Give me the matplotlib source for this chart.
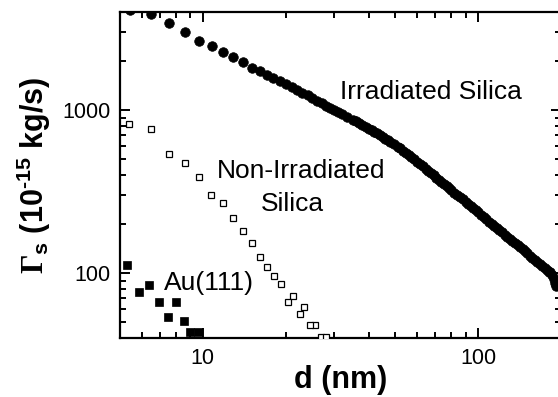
import matplotlib
matplotlib.use('Agg')
import matplotlib.pyplot as plt
from matplotlib.ticker import FixedLocator, FixedFormatter, NullFormatter

# ---------------- data ----------------
irr_d = [5.42, 6.48, 7.55, 8.6, 9.69, 10.75, 11.84, 12.9, 14.0, 15.05, 16.1, 17.1,
         18, 19, 20, 21, 22, 23, 24, 25, 26, 27, 28, 29, 30, 31, 32, 33.5, 35, 36,
         37, 38, 39, 40, 41, 42, 43, 44, 45, 46, 47, 48, 49.5, 51, 52, 53.5, 54.5,
         56, 57, 58.5, 60, 61.5, 63, 64.5, 66, 67.5, 69, 70.5, 72, 73.5, 75, 77,
         78.5, 80, 82, 84, 86, 88, 90, 92, 94, 96, 98, 100, 102.5, 105, 107, 109.5,
         112, 114.5, 117, 119.5, 122, 125, 127.5, 130, 133, 136, 139, 142, 145,
         148, 151, 154, 157.5, 161, 164, 167.5, 171, 174.5, 178, 181, 183, 186,
         188, 190, 192]
irr_g = [4100, 3880, 3440, 3020, 2660, 2470, 2280, 2105, 1960, 1820, 1735, 1640,
         1570, 1500, 1437, 1378, 1326, 1276, 1230, 1182, 1138, 1105, 1065, 1026,
         1000, 975, 945, 910, 875, 855, 830, 812, 790, 770, 753, 735, 719, 700,
         684, 668, 652, 640, 616, 598, 583, 565, 549, 532, 517, 500, 483, 467,
         452, 437, 424, 411, 398, 386, 375, 364, 354, 342, 332, 322, 312, 300,
         292, 283, 274, 265, 257, 250, 243, 236, 228, 220, 214, 207, 201, 195,
         189, 183, 178, 172, 167, 162, 158, 152, 148, 144, 140, 136, 132, 128,
         124.5, 121, 117.6, 114, 111, 107, 104, 102, 101, 97, 92, 87, 83]

non_d = [5.41, 6.48, 7.55, 8.63, 9.65, 10.69, 11.84, 12.88, 14.0, 15.05, 16.1, 17.1,
         18.2, 19.3, 21.3, 20.4, 23.4, 22.5, 25.6, 24.6, 26.8, 27.9]
non_g = [821, 764, 535, 475, 387, 302, 268, 218, 181, 154, 126, 109,
         96.2, 85.3, 72.6, 66.7, 62.1, 55.8, 47.8, 47.8, 40.7, 40.7]

au_d = [5.29, 5.85, 6.39, 6.91, 7.45, 7.98, 8.51, 8.99, 9.57]
au_g = [112, 76.7, 84.4, 66.1, 53.9, 66.1, 50.8, 43.3, 43.6]

x_major = [10, 100]
x_major_labels = ['10', '100']
x_minor = [5, 6, 7, 8, 9, 20, 30, 40, 50, 60, 70, 80, 90, 200]
y_major = [100, 1000]
y_major_labels = ['100', '1000']
y_minor = [40, 50, 60, 70, 80, 90, 200, 300, 400, 500, 600, 700, 800, 900,
           2000, 3000, 4000]

# ---------------- style ----------------
plt.rcParams['font.family'] = ['Liberation Sans', 'DejaVu Sans']
plt.rcParams['mathtext.fontset'] = 'custom'
plt.rcParams['mathtext.rm'] = 'Liberation Serif:bold'
plt.rcParams['mathtext.bf'] = 'Liberation Sans:bold'
plt.rcParams['mathtext.it'] = 'Liberation Sans:italic'
plt.rcParams['mathtext.sf'] = 'Liberation Sans'

fig = plt.figure(figsize=(5.58, 3.97), dpi=100)
ax = fig.add_axes([120 / 558, 1 - 338 / 397, (561 - 120) / 558, (338 - 12) / 397])

ax.plot(irr_d, irr_g, linestyle='none', marker='o', ms=6.9, mfc='black',
        mec='black', mew=0.5, zorder=3)
ax.plot(non_d, non_g, linestyle='none', marker='s', ms=4.9, mfc='white',
        mec='black', mew=0.9, zorder=3)
ax.plot(au_d, au_g, linestyle='none', marker='s', ms=5.5, mfc='black',
        mec='black', mew=0.5, zorder=3)

ax.set_xscale('log')
ax.set_yscale('log')
ax.set_xlim(5, 200)
ax.set_ylim(40, 4000)

ax.xaxis.set_major_locator(FixedLocator(x_major))
ax.xaxis.set_major_formatter(FixedFormatter(x_major_labels))
ax.xaxis.set_minor_locator(FixedLocator(x_minor))
ax.xaxis.set_minor_formatter(NullFormatter())
ax.yaxis.set_major_locator(FixedLocator(y_major))
ax.yaxis.set_major_formatter(FixedFormatter(y_major_labels))
ax.yaxis.set_minor_locator(FixedLocator(y_minor))
ax.yaxis.set_minor_formatter(NullFormatter())

ax.tick_params(which='both', direction='in', top=True, right=True,
               width=1.4, labelsize=15.5, pad=7, color='black')
ax.tick_params(which='major', length=7.5)
ax.tick_params(which='minor', length=4.5)
for s in ax.spines.values():
    s.set_linewidth(1.6)

ax.set_xlabel('d (nm)', fontsize=22, fontweight='bold')
ax.xaxis.set_label_coords(0.5, -0.082)
ax.set_ylabel('$\\Gamma_{\\mathbf{s}}$ (10$^{\\mathbf{\u2010}\\mathbf{15}}$ kg/s)',
              fontsize=22, fontweight='bold')
ax.yaxis.set_label_coords(-0.152, 0.5)

ax.text(0.705, 0.755, 'Irradiated Silica', transform=ax.transAxes,
        fontsize=19, ha='center', va='center')
ax.text(0.411, 0.512, 'Non-Irradiated', transform=ax.transAxes,
        fontsize=19, ha='center', va='center')
ax.text(0.391, 0.411, 'Silica', transform=ax.transAxes,
        fontsize=19, ha='center', va='center')
ax.text(0.202, 0.169, 'Au(111)', transform=ax.transAxes,
        fontsize=19, ha='center', va='center')

fig.savefig('out.png', dpi=100)
